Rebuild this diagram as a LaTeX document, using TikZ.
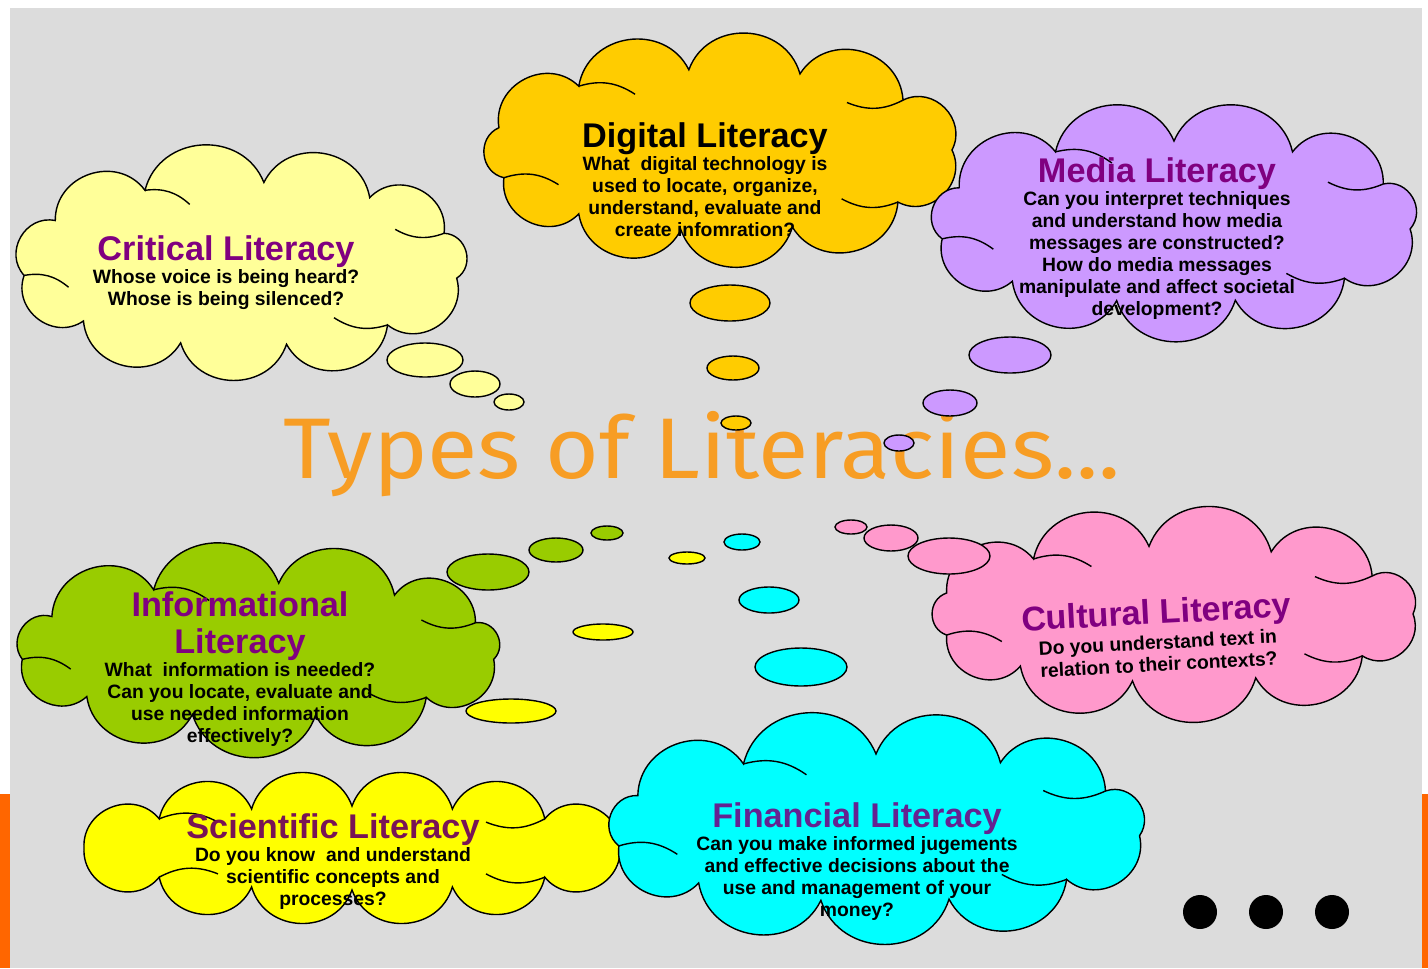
\documentclass[tikz,border=0pt]{standalone}
\usepackage{fontspec}
\setmainfont{Liberation Sans}
\newfontfamily\typesfont{Fira Sans}
\usetikzlibrary{positioning}

\definecolor{bggray}{RGB}{220,220,220}
\definecolor{barorange}{RGB}{255,102,0}
\definecolor{typesorange}{RGB}{247,157,36}
\definecolor{critcol}{RGB}{255,255,153}
\definecolor{digicol}{RGB}{255,204,0}
\definecolor{mediacol}{RGB}{204,153,255}
\definecolor{infocol}{RGB}{153,204,0}
\definecolor{cultcol}{RGB}{255,153,204}
\definecolor{scicol}{RGB}{255,255,0}
\definecolor{fincol}{RGB}{0,255,255}
\definecolor{headpurple}{RGB}{128,0,128}
\definecolor{scipurple}{RGB}{120,20,85}
\definecolor{finpurple}{RGB}{100,35,145}

\tikzset{
  bubble/.style={draw=black, line width=0.8pt},
  puffarc/.style={bend left=72, looseness=1.25},
  fold/.style={bend left=25},
  head/.style={inner sep=0pt, text=headpurple, align=center, font=\fontsize{19.5}{21}\selectfont\bfseries},
  body/.style={inner sep=0pt, align=center, font=\fontsize{11}{12.5}\selectfont\bfseries},
}

\begin{document}
\begin{tikzpicture}[x=0.02cm, y=-0.02cm]
\useasboundingbox (0,0) rectangle (1428,968);
\fill[bggray] (10,8) rectangle (1422,968);
\fill[barorange] (0,794) rectangle (10,968);
\fill[barorange] (1422,794) rectangle (1428,968);

% clouds
\draw[bubble, fill=critcol, shift={(241,264)}] (10:219 and 82) foreach \t in {48,78,106,136,172,212,244,276,306,338,370} {to[puffarc] (\t:219 and 82)} -- cycle;
\draw[bubble, shift={(241,264)}] foreach \t/\u in {48/60,172/158,244/254,338/326} {(\t:219 and 82) to[fold] (\u:186 and 62)};
\draw[bubble, fill=digicol, shift={(721,150)}] (0:231 and 81) foreach \t in {40,72,100,128,160,196,232,262,290,322,360} {to[puffarc] (\t:231 and 81)} -- cycle;
\draw[bubble, shift={(721,150)}] foreach \t/\u in {40/52,160/146,232/244,322/310} {(\t:231 and 81) to[fold] (\u:196 and 62)};
\draw[bubble, fill=mediacol, shift={(1174,222)}] (5:237 and 81) foreach \t in {44,75,104,133,168,205,240,270,300,332,365} {to[puffarc] (\t:237 and 81)} -- cycle;
\draw[bubble, shift={(1174,222)}] foreach \t/\u in {44/56,168/154,240/252,332/320} {(\t:237 and 81) to[fold] (\u:201 and 62)};
\draw[bubble, fill=infocol, shift={(258,650)}] (8:238 and 67) foreach \t in {45,76,106,136,172,210,244,275,305,336,368} {to[puffarc] (\t:238 and 67)} -- cycle;
\draw[bubble, shift={(258,650)}] foreach \t/\u in {45/57,172/158,244/256,336/324} {(\t:238 and 67) to[fold] (\u:202 and 51)};
\draw[bubble, fill=cultcol, shift={(1174,614)}] (0:239 and 68) foreach \t in {38,70,100,130,162,198,234,264,294,326,360} {to[puffarc] (\t:239 and 68)} -- cycle;
\draw[bubble, shift={(1174,614)}] foreach \t/\u in {38/50,162/148,234/246,326/314} {(\t:239 and 68) to[fold] (\u:203 and 52)};
\draw[bubble, fill=scicol, shift={(352,848)}] (0:268 and 42) foreach \t in {44,68,90,112,136,180,224,248,270,292,316,360} {to[puffarc] (\t:268 and 42)} -- cycle;
\draw[bubble, shift={(352,848)}] foreach \t/\u in {44/54,136/126,224/234,316/306} {(\t:268 and 42) to[fold] (\u:228 and 32)};
\draw[bubble, fill=fincol, shift={(876,828)}] (6:265 and 74) foreach \t in {44,74,102,132,166,206,240,270,298,330,366} {to[puffarc] (\t:265 and 74)} -- cycle;
\draw[bubble, shift={(876,828)}] foreach \t/\u in {44/56,166/152,240/252,330/318} {(\t:265 and 74) to[fold] (\u:225 and 56)};

% texts
\node[head, anchor=base] (critical title) at (226,260) {Critical Literacy};
\node[body, below=1pt of critical title] (critical text) {Whose voice is being heard?\\Whose is being silenced?};

\node[head, anchor=base, text=black] (digital title) at (705,147) {Digital Literacy};
\node[body, below=1pt of digital title] (digital text) {What\ \ digital technology is\\used to locate, organize,\\understand, evaluate and\\create infomration?};

\node[head, anchor=base] (media title) at (1157,182) {Media Literacy};
\node[body, below=1pt of media title] (media text) {Can you interpret techniques\\and understand how media\\messages are constructed?\\How do media messages\\manipulate and affect societal\\development?};

\node[head] (info title) at (240,626) {Informational\\Literacy};
\node[body, below=1pt of info title] (info text) {What\ \ information is needed?\\Can you locate, evaluate and\\use needed information\\effectively?};

\node[head, anchor=base, rotate=3] (cultural title) at (1157,624) {Cultural Literacy};
\node[body, rotate=3, below=2pt of cultural title] (cultural text) {Do you understand text in\\relation to their contexts?};

\node[head, anchor=base, text=scipurple] (science title) at (333,838) {Scientific Literacy};
\node[body, below=1pt of science title] (science text) {Do you know\ \ and understand\\scientific concepts and\\processes?};

\node[head, anchor=base, text=finpurple] (finance title) at (857,827) {Financial Literacy};
\node[body, below=1pt of finance title] (finance text) {Can you make informed jugements\\and effective decisions about the\\use and management of your\\money?};

\node[anchor=base, inner sep=0pt, xscale=1.07, text=typesorange, font=\typesfont\fontsize{49}{52}\selectfont] (types) at (702,478) {Types of Literacies...};

% thought bubbles
\draw[bubble, fill=critcol] (425,360) ellipse [x radius=38, y radius=17];
\draw[bubble, fill=critcol] (475,384) ellipse [x radius=25, y radius=13];
\draw[bubble, fill=critcol] (509,402) ellipse [x radius=15, y radius=8];

\draw[bubble, fill=digicol] (730,303) ellipse [x radius=40, y radius=18];
\draw[bubble, fill=digicol] (733,368) ellipse [x radius=26, y radius=12];
\draw[bubble, fill=digicol] (736,423) ellipse [x radius=15, y radius=7];

\draw[bubble, fill=mediacol] (1010,355) ellipse [x radius=41, y radius=18];
\draw[bubble, fill=mediacol] (950,403) ellipse [x radius=27, y radius=13];
\draw[bubble, fill=mediacol] (899,443) ellipse [x radius=15, y radius=8];

\draw[bubble, fill=infocol] (488,572) ellipse [x radius=41, y radius=18];
\draw[bubble, fill=infocol] (556,550) ellipse [x radius=27, y radius=12];
\draw[bubble, fill=infocol] (607,533) ellipse [x radius=16, y radius=7];

\draw[bubble, fill=scicol] (511,711) ellipse [x radius=45, y radius=12];
\draw[bubble, fill=scicol] (603,632) ellipse [x radius=30, y radius=8];
\draw[bubble, fill=scicol] (687,558) ellipse [x radius=18, y radius=6];

\draw[bubble, fill=fincol] (801,667) ellipse [x radius=46, y radius=19];
\draw[bubble, fill=fincol] (769,600) ellipse [x radius=30, y radius=13];
\draw[bubble, fill=fincol] (742,542) ellipse [x radius=18, y radius=8];

\draw[bubble, fill=cultcol] (949,556) ellipse [x radius=41, y radius=18];
\draw[bubble, fill=cultcol] (891,538) ellipse [x radius=27, y radius=13];
\draw[bubble, fill=cultcol] (851,527) ellipse [x radius=16, y radius=7];

% more to come
\fill (1200,912) circle [radius=17];
\fill (1266,912) circle [radius=17];
\fill (1332,912) circle [radius=17];
\end{tikzpicture}
\end{document}
